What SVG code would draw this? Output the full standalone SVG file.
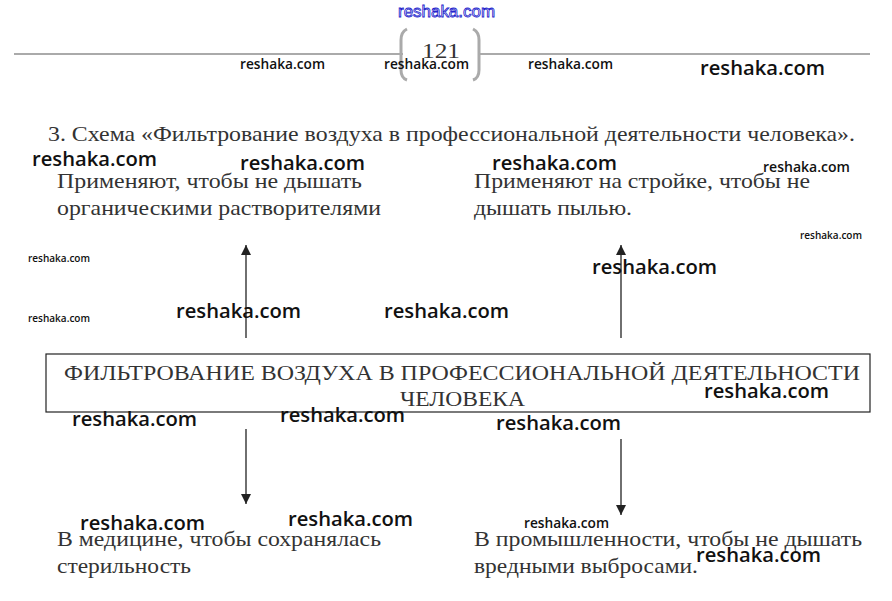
<svg xmlns="http://www.w3.org/2000/svg" width="892" height="601" viewBox="0 0 892 601">
<defs>
<marker id="ah" viewBox="0 0 10 10" refX="10" refY="5" markerWidth="10" markerHeight="10" markerUnits="userSpaceOnUse" orient="auto">
<path d="M0,0 L10,5 L0,10 z" fill="#222"/>
</marker>
<style>
.t{font-family:"Liberation Serif","Times New Roman",serif;font-size:21px;fill:#333}
.w{font-family:"Open Sans","Liberation Sans",sans-serif;font-weight:600;fill:#111}
.w20{font-size:20px}
.w14{font-size:14px}
.w10{font-size:10px}
.c{stroke:#222;stroke-width:1.3;fill:none;marker-end:url(#ah)}
</style>
</defs>
<rect width="892" height="601" fill="#fff"/>
<g id="header">
<line x1="14" y1="54" x2="403" y2="54" stroke="#aaa" stroke-width="2"/>
<line x1="478" y1="54" x2="870" y2="54" stroke="#aaa" stroke-width="2"/>
<path d="M407,29 Q401,32 401,40 L401,70 Q401,78 407,80" stroke="#aaa" stroke-width="3" fill="none"/>
<path d="M473,29 Q479,32 479,40 L479,70 Q479,78 473,80" stroke="#aaa" stroke-width="3" fill="none"/>
<text x="441" y="58" text-anchor="middle" class="t" font-size="22" textLength="38" lengthAdjust="spacingAndGlyphs">121</text>
</g>
<text id="title" x="48" y="141" class="t" textLength="807" lengthAdjust="spacingAndGlyphs">3. Схема «Фильтрование воздуха в профессиональной деятельности человека».</text>
<g id="center">
<rect x="46" y="354" width="824" height="58" fill="none" stroke="#222" stroke-width="1.2"/>
<text x="64" y="380" class="t" textLength="796" lengthAdjust="spacingAndGlyphs">ФИЛЬТРОВАНИЕ ВОЗДУХА В ПРОФЕССИОНАЛЬНОЙ ДЕЯТЕЛЬНОСТИ</text>
<text x="400" y="406" class="t" textLength="125" lengthAdjust="spacingAndGlyphs">ЧЕЛОВЕКА</text>
</g>
<g id="topLeft">
<text x="57" y="188" class="t" textLength="305" lengthAdjust="spacingAndGlyphs">Применяют, чтобы не дышать</text>
<text x="57" y="215" class="t" textLength="324" lengthAdjust="spacingAndGlyphs">органическими растворителями</text>
</g>
<g id="topRight">
<text x="474" y="188" class="t" textLength="336" lengthAdjust="spacingAndGlyphs">Применяют на стройке, чтобы не</text>
<text x="474" y="215" class="t" textLength="158" lengthAdjust="spacingAndGlyphs">дышать пылью.</text>
</g>
<g id="bottomLeft">
<text x="57" y="546" class="t" textLength="324" lengthAdjust="spacingAndGlyphs">В медицине, чтобы сохранялась</text>
<text x="57" y="573" class="t" textLength="134" lengthAdjust="spacingAndGlyphs">стерильность</text>
</g>
<g id="bottomRight">
<text x="474" y="546" class="t" textLength="388" lengthAdjust="spacingAndGlyphs">В промышленности, чтобы не дышать</text>
<text x="474" y="573" class="t" textLength="224" lengthAdjust="spacingAndGlyphs">вредными выбросами.</text>
</g>
<g id="connectors">
<line class="c" x1="246" y1="338" x2="246" y2="245"/>
<line class="c" x1="621" y1="338" x2="621" y2="245"/>
<line class="c" x1="246" y1="429" x2="246" y2="504"/>
<line class="c" x1="621" y1="439" x2="621" y2="515"/>
</g>
<g id="watermarks">
<text x="398" y="17" font-family="Liberation Sans,sans-serif" font-size="16" fill="#fff" stroke="#22c" stroke-width="0.8" textLength="97" lengthAdjust="spacingAndGlyphs">reshaka.com</text>
<text class="w w14" x="240" y="69" textLength="85" lengthAdjust="spacingAndGlyphs">reshaka.com</text>
<text class="w w14" x="384" y="69" textLength="85" lengthAdjust="spacingAndGlyphs">reshaka.com</text>
<text class="w w14" x="528" y="69" textLength="85" lengthAdjust="spacingAndGlyphs">reshaka.com</text>
<text class="w w20" x="700" y="75" textLength="125" lengthAdjust="spacingAndGlyphs">reshaka.com</text>
<text class="w w20" x="32" y="166" textLength="125" lengthAdjust="spacingAndGlyphs">reshaka.com</text>
<text class="w w20" x="240" y="170" textLength="125" lengthAdjust="spacingAndGlyphs">reshaka.com</text>
<text class="w w20" x="492" y="170" textLength="125" lengthAdjust="spacingAndGlyphs">reshaka.com</text>
<text class="w w14" x="763" y="172" textLength="87" lengthAdjust="spacingAndGlyphs">reshaka.com</text>
<text class="w w10" x="800" y="239" textLength="62" lengthAdjust="spacingAndGlyphs">reshaka.com</text>
<text class="w w10" x="28" y="262" textLength="62" lengthAdjust="spacingAndGlyphs">reshaka.com</text>
<text class="w w20" x="592" y="274" textLength="125" lengthAdjust="spacingAndGlyphs">reshaka.com</text>
<text class="w w20" x="176" y="318" textLength="125" lengthAdjust="spacingAndGlyphs">reshaka.com</text>
<text class="w w20" x="384" y="318" textLength="125" lengthAdjust="spacingAndGlyphs">reshaka.com</text>
<text class="w w10" x="28" y="322" textLength="62" lengthAdjust="spacingAndGlyphs">reshaka.com</text>
<text class="w w20" x="704" y="398" textLength="125" lengthAdjust="spacingAndGlyphs">reshaka.com</text>
<text class="w w20" x="72" y="426" textLength="125" lengthAdjust="spacingAndGlyphs">reshaka.com</text>
<text class="w w20" x="280" y="422" textLength="125" lengthAdjust="spacingAndGlyphs">reshaka.com</text>
<text class="w w20" x="496" y="430" textLength="125" lengthAdjust="spacingAndGlyphs">reshaka.com</text>
<text class="w w20" x="80" y="530" textLength="125" lengthAdjust="spacingAndGlyphs">reshaka.com</text>
<text class="w w20" x="288" y="526" textLength="125" lengthAdjust="spacingAndGlyphs">reshaka.com</text>
<text class="w w14" x="524" y="528" textLength="85" lengthAdjust="spacingAndGlyphs">reshaka.com</text>
<text class="w w20" x="696" y="562" textLength="125" lengthAdjust="spacingAndGlyphs">reshaka.com</text>
</g>
</svg>
